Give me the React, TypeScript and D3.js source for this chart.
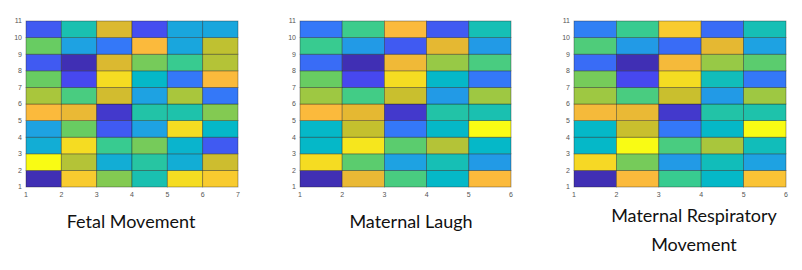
import * as d3 from 'd3';
import React from 'react';

// values are colour-map positions (0..1), rows listed from y=1 (bottom) to y=10 (top)
const fetalMovement = [
  [0.02, 0.9, 0.64, 0.45, 0.94, 0.9],
  [1.0, 0.72, 0.35, 0.48, 0.35, 0.77],
  [0.35, 0.94, 0.52, 0.62, 0.38, 0.15],
  [0.3, 0.6, 0.15, 0.3, 0.94, 0.4],
  [0.86, 0.83, 0.06, 0.47, 0.46, 0.64],
  [0.7, 0.55, 0.78, 0.3, 0.7, 0.2],
  [0.6, 0.12, 0.94, 0.4, 0.2, 0.86],
  [0.15, 0.02, 0.8, 0.62, 0.52, 0.72],
  [0.6, 0.3, 0.2, 0.86, 0.32, 0.74],
  [0.15, 0.45, 0.8, 0.13, 0.32, 0.32],
];

const maternalLaugh = [
  [0.02, 0.83, 0.55, 0.4, 0.86],
  [0.94, 0.58, 0.3, 0.44, 0.28],
  [0.4, 0.96, 0.58, 0.72, 0.4],
  [0.4, 0.75, 0.2, 0.4, 1.0],
  [0.86, 0.82, 0.06, 0.47, 0.45],
  [0.68, 0.54, 0.76, 0.28, 0.68],
  [0.6, 0.12, 0.94, 0.4, 0.2],
  [0.18, 0.02, 0.84, 0.67, 0.55],
  [0.52, 0.28, 0.15, 0.82, 0.28],
  [0.2, 0.53, 0.86, 0.15, 0.44],
];

const maternalRespiratory = [
  [0.02, 0.86, 0.52, 0.4, 0.88],
  [0.93, 0.62, 0.28, 0.43, 0.3],
  [0.4, 1.0, 0.55, 0.7, 0.43],
  [0.4, 0.76, 0.2, 0.4, 1.0],
  [0.85, 0.83, 0.06, 0.47, 0.46],
  [0.68, 0.55, 0.76, 0.28, 0.68],
  [0.62, 0.12, 0.94, 0.43, 0.2],
  [0.18, 0.02, 0.85, 0.67, 0.58],
  [0.56, 0.28, 0.18, 0.82, 0.3],
  [0.22, 0.52, 0.9, 0.18, 0.44],
];

const yTicks = [1, 2, 3, 4, 5, 6, 7, 8, 9, 10, 11];

// parula-like colour map
const parulaStops = [0, 0.12, 0.2, 0.3, 0.4, 0.46, 0.53, 0.6, 0.68, 0.75, 0.81, 0.86, 0.94, 1];
const parulaColors = ['#3e2aa8', '#4748ef', '#3478f8', '#1ea2e2', '#05b8c8', '#1ec2ab', '#3ccc8c',
  '#68cc62', '#9ec842', '#c4c02e', '#dfb830', '#fbba3c', '#f5dc22', '#f9fb14'];
const color = d3.scaleLinear<string>().domain(parulaStops).range(parulaColors).interpolate(d3.interpolateRgb);

const panels = [
  { data: fetalMovement, left: 26, right: 238, title: ['Fetal Movement'], titleX: 131 },
  { data: maternalLaugh, left: 300, right: 511, title: ['Maternal Laugh'], titleX: 411 },
  { data: maternalRespiratory, left: 574, right: 786, title: ['Maternal Respiratory', 'Movement'], titleX: 694 },
];

const top = 21;
const bottom = 187;

function Panel({ p }: { p: typeof panels[0] }) {
  const nCols = p.data[0].length;
  const x = d3.scaleLinear().domain([1, nCols + 1]).range([p.left, p.right]);
  const y = d3.scaleLinear().domain([1, 11]).range([bottom, top]);
  const xTicks = d3.range(1, nCols + 2);
  return (
    <g>
      {p.data.map((row, r) => row.map((v, c) => (
        <rect key={`${r}-${c}`}
          x={x(c + 1)} y={y(r + 2)}
          width={x(c + 2) - x(c + 1)} height={y(r + 1) - y(r + 2)}
          fill={color(v)} stroke="rgba(30,30,30,0.45)" strokeWidth={0.8} />
      )))}
      {yTicks.map(t => (
        <text key={'y' + t} x={p.left - 4} y={y(t)} dy="0.35em" textAnchor="end"
          fontSize={7} fill="#555" fontFamily="'Liberation Sans', Arial, sans-serif">{t}</text>
      ))}
      {xTicks.map(t => (
        <text key={'x' + t} x={x(t)} y={bottom + 8} dy="0.35em" textAnchor="middle"
          fontSize={7} fill="#555" fontFamily="'Liberation Sans', Arial, sans-serif">{t}</text>
      ))}
      {p.title.map((line, i) => (
        <text key={'t' + i} x={p.titleX} y={p.title.length > 1 ? 222 + i * 29 : 228}
          textAnchor="middle" fontSize={18} fill="#111"
          fontFamily="Lato, 'Noto Sans', sans-serif">{line}</text>
      ))}
    </g>
  );
}

export default function App() {
  return (
    <svg width={802} height={270} style={{ position: 'absolute', left: 0, top: 0, background: '#fff' }}>
      {panels.map((p, i) => <Panel key={i} p={p} />)}
    </svg>
  );
}
